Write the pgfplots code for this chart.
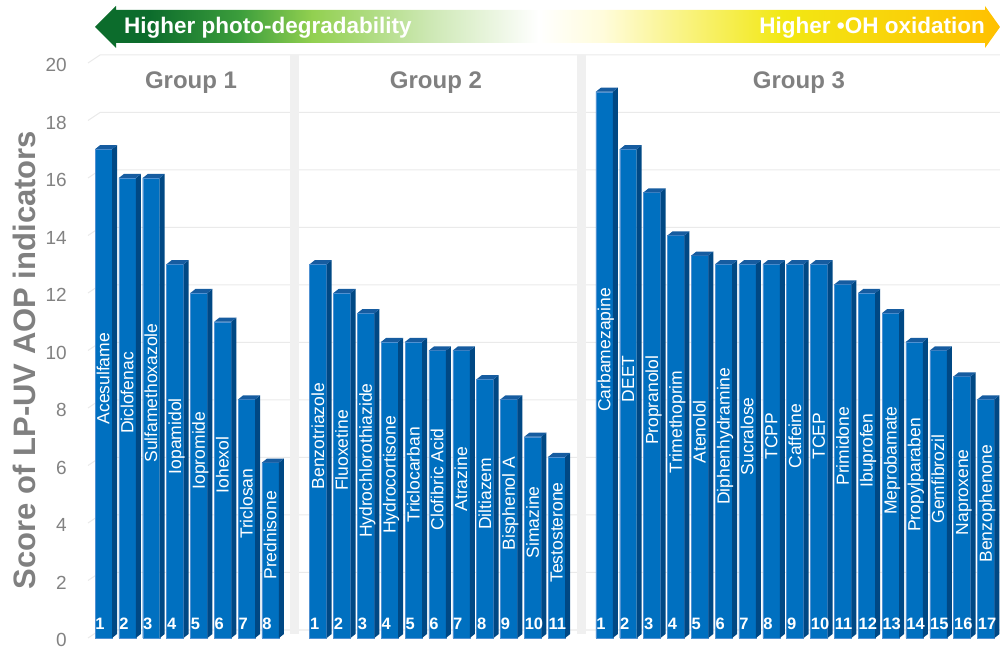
\documentclass[border=0pt]{standalone}
\usepackage{fontspec}
\setmainfont{Liberation Sans}
\usepackage{pgfplots}
\usepackage{pgfplotstable}
\pgfplotsset{compat=1.18}

\definecolor{barfront}{RGB}{0,112,192}
\definecolor{barside}{RGB}{0,72,132}
\definecolor{bartop}{RGB}{22,92,160}
\definecolor{baredge}{RGB}{80,145,210}
\definecolor{gridc}{RGB}{234,234,234}
\definecolor{sepc}{RGB}{240,240,240}
\definecolor{titlec}{RGB}{128,128,128}
\definecolor{tickc}{RGB}{130,130,130}
\definecolor{gA}{RGB}{12,108,44}
\definecolor{gB}{RGB}{60,158,60}
\definecolor{gC}{RGB}{146,208,80}
\definecolor{gD}{RGB}{205,232,180}
\definecolor{yA}{RGB}{255,252,220}
\definecolor{yB}{RGB}{242,232,20}
\definecolor{yC}{RGB}{255,192,0}

\pgfdeclarehorizontalshading{banner}{100bp}{%
  color(0bp)=(gA); color(25bp)=(gA); color(28bp)=(gA); color(33bp)=(gB); color(37bp)=(gC);
  color(43.5bp)=(gD); color(49.5bp)=(white); color(53bp)=(yA); color(63bp)=(yB);
  color(75bp)=(yC); color(100bp)=(yC)}

\newcommand\labelfont{\fontsize{17.5}{20}\selectfont}
\newcommand\numfont{\fontsize{16.5}{19}\selectfont\bfseries}

% side and top faces of a 3D bar, drawn at the top centre of the front face
\newlength\capH
\pgfdeclareplotmark{cap3d}{%
  \pgfmathsetlength\capH{\barval*28.75pt}%
  \pgfsetfillcolor{barside}%
  \pgfpathmoveto{\pgfqpoint{8.5pt}{0pt}}%
  \pgfpathlineto{\pgfqpoint{13.5pt}{4pt}}%
  \pgfpathlineto{\pgfpoint{13.5pt}{4pt-\capH}}%
  \pgfpathlineto{\pgfpoint{8.5pt}{-\capH}}%
  \pgfpathclose
  \pgfusepathqfill
  \pgfsetfillcolor{bartop}%
  \pgfpathmoveto{\pgfqpoint{-8.5pt}{0pt}}%
  \pgfpathlineto{\pgfqpoint{8.5pt}{0pt}}%
  \pgfpathlineto{\pgfqpoint{13.5pt}{4pt}}%
  \pgfpathlineto{\pgfqpoint{-3.5pt}{4pt}}%
  \pgfpathclose
  \pgfusepathqfill
}

\pgfplotstableread[col sep=comma]{
x,v,n,name
0,17,1,Acesulfame
1,16,2,Diclofenac
2,16,3,Sulfamethoxazole
3,13,4,Iopamidol
4,12,5,Iopromide
5,11,6,Iohexol
6,8.3,7,Triclosan
7,6.1,8,Prednisone
}\groupone

\pgfplotstableread[col sep=comma]{
x,v,n,name
9,13,1,Benzotriazole
10,12,2,Fluoxetine
11,11.3,3,Hydrochlorothiazide
12,10.3,4,Hydrocortisone
13,10.3,5,Triclocarban
14,10,6,Clofibric Acid
15,10,7,Atrazine
16,9,8,Diltiazem
17,8.3,9,Bisphenol A
18,7,10,Simazine
19,6.3,11,Testosterone
}\grouptwo

\pgfplotstableread[col sep=comma]{
x,v,n,name
21,19,1,Carbamezapine
22,17,2,DEET
23,15.5,3,Propranolol
24,14,4,Trimethoprim
25,13.3,5,Atenolol
26,13,6,Diphenhydramine
27,13,7,Sucralose
28,13,8,TCPP
29,13,9,Caffeine
30,13,10,TCEP
31,12.3,11,Primidone
32,12,12,Ibuprofen
33,11.3,13,Meprobamate
34,10.3,14,Propylparaben
35,10,15,Gemfibrozil
36,9.1,16,Naproxene
37,8.3,17,Benzophenone
}\groupthree

\newcommand\drawgroup[1]{%
  \addplot[ybar, bar shift=0pt, bar width=17pt, fill=barfront, draw=baredge, line width=0.4pt]
    table[x=x, y=v] {#1};
  \addplot[scatter, only marks, mark=cap3d, point meta=\thisrow{v},
    visualization depends on={\thisrow{v} \as \barval},
    scatter/@pre marker code/.code={\pgfscope},
    scatter/@post marker code/.code={\endpgfscope}]
    table[x=x, y=v] {#1};
  \addplot[draw=none, mark=none, nodes near coords, point meta=explicit symbolic,
    nodes near coords align={anchor=base},
    every node near coord/.style={rotate=90, anchor=base, text=white, font=\labelfont, inner sep=0pt}]
    table[x expr=\thisrow{x}+0.25, y expr=\thisrow{v}/2+0.52, meta=name] {#1};
  \addplot[draw=none, mark=none, nodes near coords, point meta=explicit symbolic,
    nodes near coords align={anchor=base west},
    every node near coord/.style={anchor=base west, text=white, font=\numfont, inner sep=0pt}]
    table[x expr=\thisrow{x}-0.345, y expr=0.3, meta=n] {#1};
}

\begin{document}
\begin{tikzpicture}
\begin{axis}[
  at={(88pt,12pt)}, anchor=south west,
  x=23.85pt, y=28.75pt,
  xmin=-0.65, xmax=37.6, ymin=0, ymax=20,
  axis line style={draw=none},
  xtick=\empty,
  ytick={0,2,...,20},
  major tick length=0pt,
  /pgf/number format/assume math mode=true,
  yticklabel style={font=\fontsize{19}{22}\selectfont, text=tickc, anchor=east, inner sep=0pt, xshift=-21pt, yshift=-2pt},
  clip=false,
]
% back-wall grid lines with their slanted floor edge
\pgfplotsinvokeforeach{0,2,4,6,8,10,12,14,16,18,20}{
  \draw[gridc, line width=1pt] (axis cs:-0.65,#1) -- ([shift={(12pt,8pt)}]axis cs:-0.65,#1) -- ([yshift=8pt]axis cs:37.6,#1);
}
% group separators
\fill[sepc] (axis cs:7.82,0.15) rectangle (axis cs:8.2,20.28);
\fill[sepc] (axis cs:19.87,0.15) rectangle (axis cs:20.23,20.28);

\drawgroup{\groupone}
\drawgroup{\grouptwo}
\drawgroup{\groupthree}

\node[font={\fontsize{24}{28}\selectfont\bfseries}, text=titlec, anchor=base] at (axis cs:3.67,19.13) {Group 1};
\node[font={\fontsize{24}{28}\selectfont\bfseries}, text=titlec, anchor=base] at (axis cs:13.94,19.13) {Group 2};
\node[font={\fontsize{24}{28}\selectfont\bfseries}, text=titlec, anchor=base] at (axis cs:29.16,19.13) {Group 3};
\end{axis}

% axis title
\node[rotate=90, font={\fontsize{31}{34}\selectfont\bfseries}, text=titlec] at (24pt,290pt) {Score of LP-UV AOP indicators};

% double-headed banner
\shade[shading=banner] (95pt,623pt) -- (116pt,644pt) -- (116pt,640pt) -- (985pt,640pt) -- (985pt,644pt) -- (1000pt,623pt) -- (985pt,602pt) -- (985pt,607pt) -- (116pt,607pt) -- (116pt,602pt) -- cycle;
\node[anchor=base west, inner sep=0pt, text=white, font={\fontsize{22.5}{26}\selectfont\bfseries}] at (124pt,616.7pt) {Higher photo-degradability};
\node[anchor=base east, inner sep=0pt, text=white, font={\fontsize{22.5}{26}\selectfont\bfseries}] at (985pt,616.7pt) {Higher •OH oxidation};

\pgfresetboundingbox
\path[use as bounding box] (0pt,0pt) rectangle (1000pt,650pt);
\end{tikzpicture}
\end{document}
